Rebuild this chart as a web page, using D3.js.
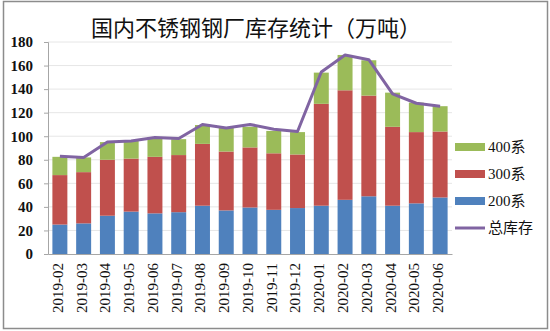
<!DOCTYPE html>
<html><head><meta charset="utf-8">
<script src="https://cdn.jsdelivr.net/npm/d3@7"></script>
<style>body{margin:0;background:#fff}svg{display:block}
.serif{font-family:'Liberation Serif','Times New Roman','DejaVu Serif',serif;}
.leg{font-family:'Liberation Serif','Noto Sans CJK SC',serif;}
</style>
</head><body>
<svg id="c" width="550" height="331"></svg>
<script>
const categories = ["2019-02","2019-03","2019-04","2019-05","2019-06","2019-07","2019-08","2019-09","2019-10","2019-11","2019-12","2020-01","2020-02","2020-03","2020-04","2020-05","2020-06"];
const s200 = [25, 26, 32.5, 36, 34.5, 35.5, 41, 37, 39.5, 37.5, 39, 41, 46, 49, 41, 43, 48];
const s300 = [42, 43.5, 47.5, 45, 48, 48.5, 52.5, 50, 51, 48, 45.5, 86.5, 93, 85.5, 67, 60.5, 56];
const s400 = [15.5, 12.5, 15, 15, 16.5, 13.5, 16, 20, 17.5, 19, 19, 26.5, 30, 30, 29, 25, 21.5];
const total = [83, 82, 95, 96, 99, 98, 110, 107, 110, 106, 104, 154.5, 169, 165, 136, 128, 125.5];
const yTicks = [0, 20, 40, 60, 80, 100, 120, 140, 160, 180];
const seriesNames = ["200系", "300系", "400系"];
const lineName = "总库存";
const colors = {"200系": "#4f81bd", "300系": "#c0504d", "400系": "#9bbb59", "总库存": "#8064a2"};

const svg = d3.select("#c");
svg.append("rect").attr("x", 3.5).attr("y", 1.5).attr("width", 544).attr("height", 327)
  .attr("fill", "#fff").attr("stroke", "#8c8c8c").attr("stroke-width", 1.5);

const L = 48, R = 452, T = 42, B = 254;
const x = d3.scaleBand().domain(categories).range([L, R]).paddingInner(0.37).paddingOuter(0.185);
const y = d3.scaleLinear().domain([0, 180]).range([B, T]);

// gridlines
svg.append("g").selectAll("line").data(yTicks.filter(d => d > 0)).join("line")
  .attr("x1", L).attr("x2", R).attr("y1", d => y(d)).attr("y2", d => y(d))
  .attr("stroke", "#e6e6e6").attr("stroke-width", 1);

const table = categories.map((c, i) => ({cat: c, "200系": s200[i], "300系": s300[i], "400系": s400[i]}));
const stacked = d3.stack().keys(seriesNames)(table);
svg.append("g").selectAll("g").data(stacked).join("g").attr("fill", d => colors[d.key])
  .selectAll("rect").data(d => d).join("rect")
  .attr("x", d => x(d.data.cat)).attr("width", x.bandwidth())
  .attr("y", d => y(d[1])).attr("height", d => y(d[0]) - y(d[1]));

// axes
const yAxis = d3.axisLeft(y).tickValues(yTicks).tickSize(4).tickPadding(11).tickFormat(d3.format("d"));
const gy = svg.append("g").attr("transform", `translate(${L},0)`).call(yAxis);
gy.attr("font-family", null).attr("font-size", null);
gy.select(".domain").attr("stroke", "#a6a6a6");
gy.selectAll(".tick line").attr("stroke", "#a6a6a6");
gy.selectAll("text").attr("class", "serif").style("font-size", "15px")
  .style("font-weight", "bold").attr("fill", "#111");

const xAxis = d3.axisBottom(x).tickSize(0).tickPadding(0);
const gx = svg.append("g").attr("transform", `translate(0,${B})`).call(xAxis);
gx.attr("font-family", null).attr("font-size", null);
gx.select(".domain").attr("stroke", "#a6a6a6");
gx.selectAll("text").attr("class", "serif").style("font-size", "15px")
  .attr("fill", "#111").attr("text-anchor", "end").attr("dy", "0.33em")
  .attr("transform", "translate(-2,9) rotate(-90)");

// line
const line = d3.line().x((d, i) => x(categories[i]) + x.bandwidth() / 2).y(d => y(d));
svg.append("path").datum(total).attr("d", line).attr("fill", "none")
  .attr("stroke", colors[lineName]).attr("stroke-width", 3).attr("stroke-linejoin", "round");

// title
svg.append("text").attr("x", 256).attr("y", 36).attr("text-anchor", "middle")
  .style("font-family", "'Noto Sans CJK SC', sans-serif").style("font-size", "22px").attr("fill", "#111")
  .text("国内不锈钢钢厂库存统计（万吨）");

// legend
const legItems = ["400系", "300系", "200系", "总库存"];
const lg = svg.append("g").selectAll("g").data(legItems).join("g")
  .attr("transform", (d, i) => `translate(455,${147 + i * 27})`);
lg.filter(d => d !== lineName).append("rect").attr("x", 0).attr("y", -4).attr("width", 30).attr("height", 8)
  .attr("fill", d => colors[d]);
lg.filter(d => d === lineName).append("line").attr("x1", 0).attr("x2", 30).attr("y1", 0).attr("y2", 0)
  .attr("stroke", colors[lineName]).attr("stroke-width", 3);
lg.append("text").attr("class", "leg").attr("x", 33).attr("y", 0).attr("dy", "0.35em")
  .style("font-size", "15px").attr("fill", "#111")
  .text(d => d);
</script>
</body></html>
